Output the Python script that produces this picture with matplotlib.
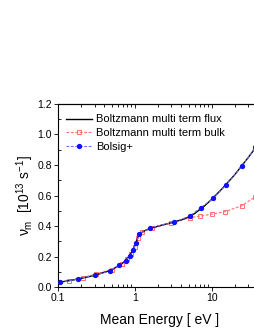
import matplotlib
matplotlib.use('Agg')
import matplotlib.pyplot as plt
from matplotlib.ticker import LogLocator, NullFormatter, MultipleLocator, FixedLocator, FixedFormatter

plt.rcParams['font.family'] = ['Liberation Sans', 'DejaVu Sans']
plt.rcParams['mathtext.fontset'] = 'custom'
plt.rcParams['mathtext.rm'] = 'Liberation Sans'
plt.rcParams['mathtext.it'] = 'Liberation Sans'

# flux curve
E_flux = [0.1, 0.15, 0.2, 0.3, 0.5, 0.7, 0.8, 0.9, 1.0, 1.1, 1.2, 1.4, 1.7,
          2.2, 3, 4, 5, 6, 8, 10, 14, 20, 30, 40]
v_flux = [0.030, 0.045, 0.057, 0.077, 0.112, 0.158, 0.188, 0.225, 0.272, 0.328,
          0.354, 0.374, 0.389, 0.405, 0.422, 0.440, 0.458, 0.482, 0.530, 0.575,
          0.650, 0.737, 0.850, 0.935]

# bulk
E_bulk = [0.14, 0.21, 0.31, 0.5, 0.68, 0.8, 0.9, 1.0, 1.1, 1.25, 1.7, 3.0,
          5.2, 7.1, 10, 15, 24.6, 37]
v_bulk = [0.041, 0.062, 0.085, 0.115, 0.150, 0.185, 0.22, 0.265, 0.32, 0.362,
          0.385, 0.42, 0.455, 0.465, 0.478, 0.494, 0.533, 0.592]

# Bolsig+
E_bol = [0.108, 0.18, 0.30, 0.47, 0.62, 0.76, 0.86, 0.95, 1.03, 1.14, 1.6,
         3.2, 5.2, 7.2, 10.5, 15.4, 24.8, 37]
v_bol = [0.031, 0.052, 0.079, 0.107, 0.144, 0.172, 0.205, 0.243, 0.289, 0.348,
         0.389, 0.424, 0.466, 0.52, 0.582, 0.669, 0.793, 0.916]

fig = plt.figure(figsize=(2.55, 3.3), dpi=100)
ax = fig.add_axes([0.227, 0.130, 0.80, 0.555])

ax.plot(E_bulk, v_bulk, color='#ff7070', ls='--', dashes=(2.5, 1.5), lw=0.8,
        marker='s', ms=2.8, mfc='none', mew=0.7, label='Boltzmann multi term bulk', zorder=2)
ax.plot(E_flux, v_flux, color='black', lw=1.0, label='Boltzmann multi term flux', zorder=3)
ax.plot(E_bol, v_bol, color='#7070ff', ls='--', dashes=(2.5, 1.5), lw=0.8,
        marker='o', ms=2.8, mfc='#1010ff', mec='#1010ff', label='Bolsig+', zorder=4)

ax.set_xscale('log')
ax.set_xlim(0.1, 45)
ax.set_ylim(0, 1.2)
ax.xaxis.set_major_locator(FixedLocator([0.1, 1, 10]))
ax.xaxis.set_major_formatter(FixedFormatter(['0.1', '1', '10']))
ax.xaxis.set_minor_locator(LogLocator(base=10, subs=range(2, 10)))
ax.xaxis.set_minor_formatter(NullFormatter())
ax.set_yticks([0, 0.2, 0.4, 0.6, 0.8, 1.0, 1.2])
ax.set_yticklabels(['0.0', '0.2', '0.4', '0.6', '0.8', '1.0', '1.2'])
ax.yaxis.set_minor_locator(MultipleLocator(0.1))

ax.tick_params(which='both', right=False, labelsize=7.5, width=0.6)
ax.tick_params(which='major', direction='out', length=3, pad=1.5)
ax.tick_params(which='minor', direction='in', length=2)
for s in ax.spines.values():
    s.set_linewidth(0.8)

# top axis with inward ticks, no labels
top = ax.secondary_xaxis('top')
top.xaxis.set_major_locator(FixedLocator([0.1, 1, 10]))
top.xaxis.set_minor_locator(LogLocator(base=10, subs=range(2, 10)))
top.xaxis.set_minor_formatter(NullFormatter())
top.tick_params(which='both', direction='in', labeltop=False, width=0.6)
top.tick_params(which='major', length=3)
top.tick_params(which='minor', length=2)
top.spines['top'].set_linewidth(0.8)

ax.set_xlabel('Mean Energy [ eV ]', fontsize=10, labelpad=7)
ax.set_ylabel(r'$\nu_m$  [10$^{13}$ s$^{-1}$]', fontsize=10, labelpad=1)

h, l = ax.get_legend_handles_labels()
order = [1, 0, 2]
ax.legend([h[i] for i in order], [l[i] for i in order], loc='upper left',
          bbox_to_anchor=(0.0, 0.985), frameon=False, fontsize=8,
          handlelength=2.4, handletextpad=0.3, labelspacing=0.35, borderaxespad=0.3)

fig.savefig('out.png', dpi=100)
